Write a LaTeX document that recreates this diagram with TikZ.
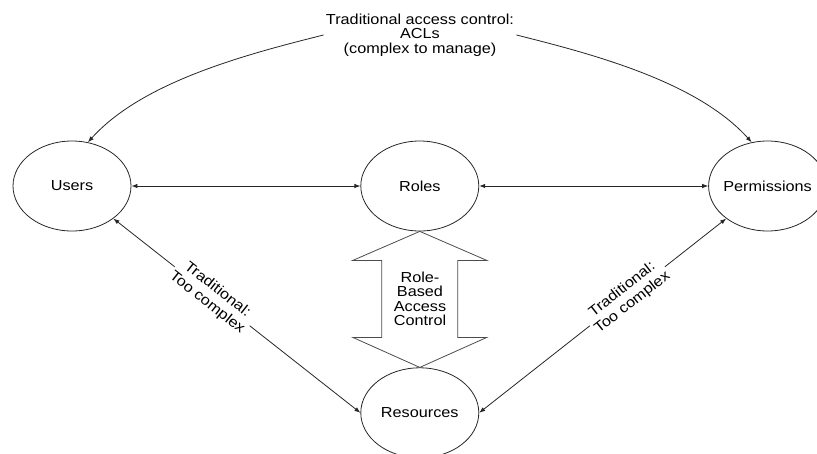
\documentclass[tikz,border=0pt]{standalone}
\usepackage{fontspec}
\setmainfont{Liberation Sans}[FakeStretch=1.12]
\usetikzlibrary{shapes,arrows.meta,positioning}

\begin{document}
\begin{tikzpicture}[x=1pt, y=1pt, line width=0.8pt, draw=black!85,
  font=\fontsize{14.5}{14.5}\selectfont,
  >={Latex[length=6pt,width=4.5pt]},
  entity/.style={ellipse, draw, minimum width=118pt, minimum height=90pt, inner ysep=0pt, inner xsep=-6pt},
  note/.style={align=center, fill=white, inner sep=2pt, font=\fontsize{14.5}{16.5}\selectfont}]
\useasboundingbox (0,0) rectangle (817,-453);

% the four corners of the model
\node (users) [entity] at (72,-186) {Users};
\node (roles) [entity, right=229pt of users] {Roles};
\node (permissions) [entity, right=229pt of roles] {Permissions};
\node (resources) [entity, below=136pt of roles] {Resources};
\node (acl) [align=center, inner sep=2pt] at (420,-35) {Traditional access control:\\ACLs\\(complex to manage)};

% ACL arcs
\draw[->] (acl.west) to[out=194, in=48, looseness=0.8] (users.70);
\draw[->] (acl.east) to[out=-14, in=132, looseness=0.8] (permissions.110);

% links in the middle row
\draw[<->] (users) -- (roles);
\draw[<->] (roles) -- (permissions);

% direct links to resources
\draw[<->] (users) -- node[note, sloped, pos=0.4] {Traditional:\\Too complex} (resources.west);
\draw[<->] (resources.east) -- node[note, sloped, pos=0.6] {Traditional:\\Too complex} (permissions);

% big double arrow between roles and resources
\draw[black!70] (roles.south) -- ++(67,-29) -- ++(-29,0) -- ++(0,-77) -- ++(29,0)
  -- (resources.north) -- ++(-67,30) -- ++(29,0) -- ++(0,77) -- ++(-29,0) -- cycle;
\node (rbac) [align=center] at (420,-299) {Role-\\Based\\Access\\Control};
\end{tikzpicture}
\end{document}
